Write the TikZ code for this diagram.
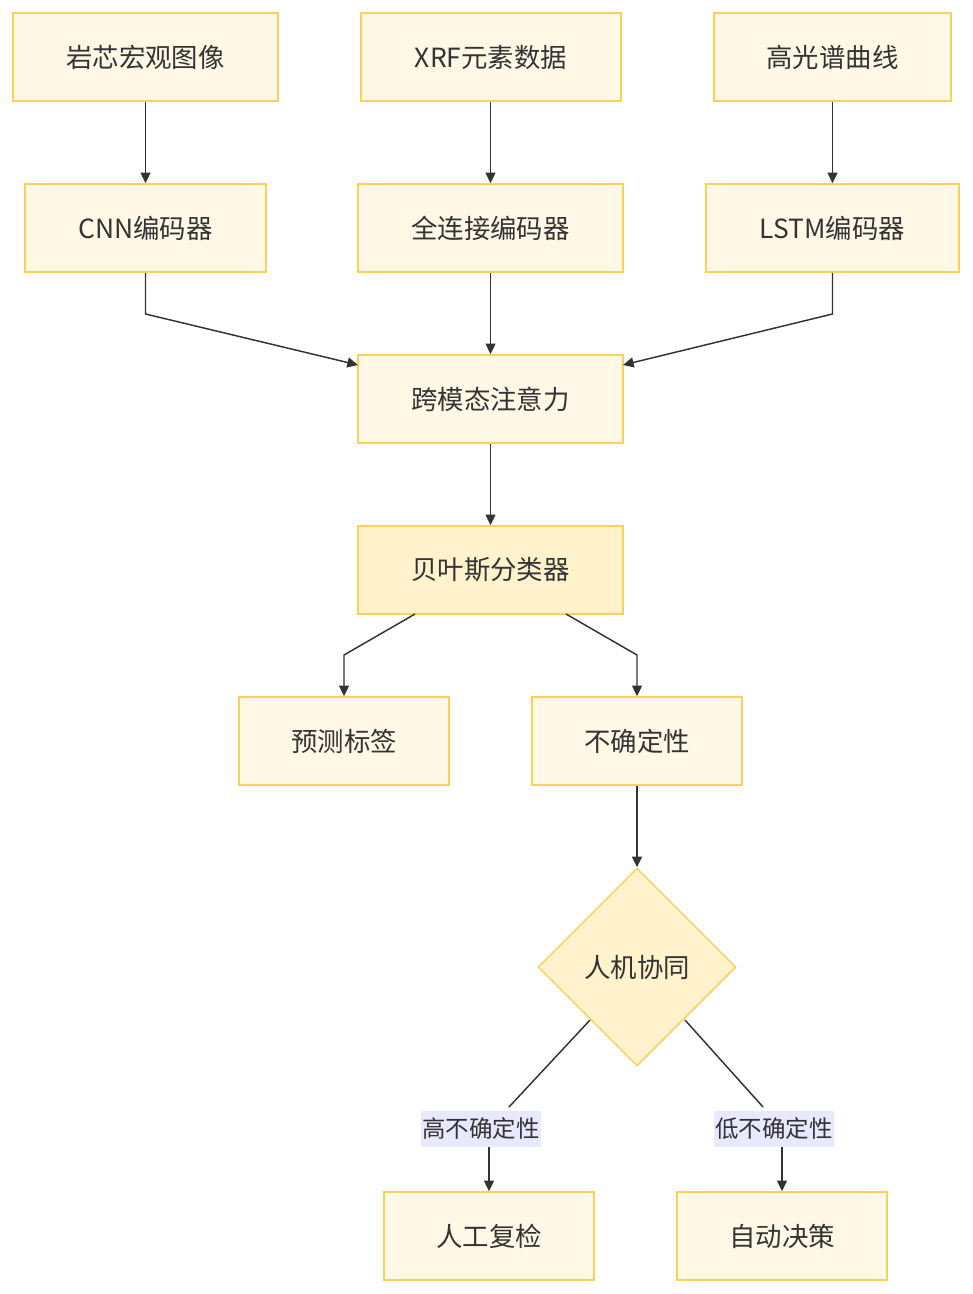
\documentclass[tikz,border=0pt]{standalone}
\usepackage{fontspec}
\setmainfont{Noto Sans CJK SC}
\usetikzlibrary{shapes.geometric,arrows.meta}
\definecolor{boxfill}{HTML}{FFF8E6}
\definecolor{boxline}{HTML}{FCD15A}
\definecolor{hifill}{HTML}{FFF2CC}
\definecolor{lblfill}{HTML}{E8E8FF}
\definecolor{ink}{HTML}{333333}
\tikzset{
  box/.style={draw=boxline, fill=boxfill, line width=1.2pt, text=ink, font=\fontsize{19.8pt}{22pt}\selectfont, inner sep=0pt, anchor=center},
  dia/.style={draw=boxline, fill=hifill, line width=1.1pt, diamond, text=ink, font=\fontsize{19.8pt}{22pt}\selectfont, inner sep=0pt, minimum width=148.5pt, minimum height=148.5pt, aspect=1},
  lbl/.style={fill=lblfill, text=ink, font=\fontsize{17.6pt}{20pt}\selectfont, inner sep=1pt, minimum height=27pt},
  conn/.style={draw=ink, line width=1.1pt, -{Triangle[length=8pt,width=7.5pt]}},
  seg/.style={draw=ink, line width=1.1pt}
}
\begin{document}
\begin{tikzpicture}[x=0.75pt,y=-0.75pt]
\useasboundingbox (0,0) rectangle (972,1294);
% row 1
\node[box, minimum width=198.75pt, minimum height=66pt] (img) at (145.5,57) {岩芯宏观图像};
\node[box, minimum width=195pt, minimum height=66pt] (xrf) at (491,57) {XRF元素数据};
\node[box, minimum width=177.75pt, minimum height=66pt] (hs) at (832.5,57) {高光谱曲线};
% row 2
\node[box, minimum width=180.75pt, minimum height=66pt] (cnn) at (145.5,228) {CNN编码器};
\node[box, minimum width=198.75pt, minimum height=66pt] (fc) at (490.5,228) {全连接编码器};
\node[box, minimum width=189.75pt, minimum height=66pt] (lstm) at (832.5,228) {LSTM编码器};
% attention
\node[box, minimum width=198.75pt, minimum height=66pt] (att) at (490.5,399) {跨模态注意力};
% classifier
\node[box, fill=hifill, minimum width=198.75pt, minimum height=66pt] (bay) at (490.5,570) {贝叶斯分类器};
% outputs
\node[box, minimum width=157.5pt, minimum height=66pt] (pred) at (344,741) {预测标签};
\node[box, minimum width=157.5pt, minimum height=66pt] (unc) at (637,741) {不确定性};
% decision
\node[dia] (hm) at (637,967) {人机协同};
% labels
\node[lbl] (hi) at (481,1129) {高不确定性};
\node[lbl] (lo) at (774,1129) {低不确定性};
% finals
\node[box, minimum width=157.5pt, minimum height=66pt] (man) at (489,1236) {人工复检};
\node[box, minimum width=157.5pt, minimum height=66pt] (auto) at (782,1236) {自动决策};
% coordinates
\coordinate (c1) at (145.5,314);
\coordinate (c2) at (832.5,314);
\coordinate (c3) at (344,655);
\coordinate (c4) at (637,655);
\coordinate (bl) at (415,614);
\coordinate (br) at (566,614);
\coordinate (attl) at (358,365);
\coordinate (attr) at (623,365);
\coordinate (dl) at (590,1020);
\coordinate (dr) at (685,1020);
\coordinate (hit) at (509,1107);
\coordinate (lot) at (763,1107);
% edges
\draw[conn] (img) -- (cnn);
\draw[conn] (xrf.south -| fc.north) -- (fc.north);
\draw[conn] (hs) -- (lstm);
\draw[conn] (cnn.south) -- (c1) -- (attl);
\draw[conn] (fc) -- (att);
\draw[conn] (lstm.south) -- (c2) -- (attr);
\draw[conn] (att) -- (bay);
\draw[conn] (bl) -- (c3) -- (pred.north);
\draw[conn] (br) -- (c4) -- (unc.north);
\draw[conn] (unc) -- (hm.north);
\draw[seg] (dl) -- (hit);
\draw[seg] (dr) -- (lot);
\draw[conn] (hi.south -| man.north) -- (man.north);
\draw[conn] (lo.south -| auto.north) -- (auto.north);
\end{tikzpicture}
\end{document}
